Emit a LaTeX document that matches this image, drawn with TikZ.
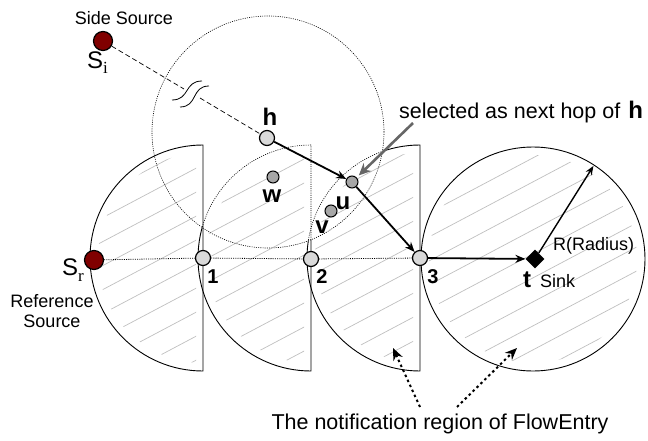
\documentclass[tikz,border=0pt]{standalone}
\usepackage{fontspec}
\setmainfont{Liberation Sans}
\newfontfamily\myseriffont{Liberation Serif}
\usetikzlibrary{arrows.meta,shapes.geometric,calc}
\definecolor{srcred}{RGB}{128,0,0}
\newcommand\myhatch{\foreach \k in {-30,...,20}{\draw[hatchline] (0,\k*24) -- (648,\k*24+343);}}
\begin{document}
\begin{tikzpicture}[x=1pt,y=1pt,
  nd/.style={circle,draw=black,line width=1.2pt,fill=black!15,minimum size=15pt,inner sep=0pt},
  sn/.style={circle,draw=black,line width=1pt,fill=black!35,minimum size=12pt,inner sep=0pt},
  src/.style={circle,draw=black,line width=1.2pt,fill=srcred,minimum size=19pt,inner sep=0pt},
  sinknode/.style={diamond,fill=black,minimum size=19pt,inner sep=0pt},
  lbl/.style={font=\fontsize{24}{24}\selectfont\bfseries,inner sep=0pt,anchor=base},
  num/.style={font=\fontsize{20}{20}\selectfont\bfseries,inner sep=0pt,anchor=base},
  txt/.style={font=\fontsize{18}{18}\selectfont,inner sep=0pt},
  bigtxt/.style={font=\fontsize{21.5}{22}\selectfont,inner sep=0pt},
  arr/.style={line width=1.8pt,-{Stealth[length=10pt,width=8pt]}},
  region/.style={line width=0.9pt},
  finedot/.style={line width=0.6pt,dash pattern=on 1pt off 1.2pt},
  hatchline/.style={black!25,line width=0.7pt}
]
\useasboundingbox (0,0) rectangle (648,440);

% hatching
\begin{scope}
  \clip (83,62) rectangle (196,302);
  \clip (203,182) circle (105);
  \myhatch
\end{scope}
\begin{scope}
  \clip (191,62) rectangle (304,302);
  \clip (311,182) circle (105);
  \myhatch
\end{scope}
\begin{scope}
  \clip (300,62) rectangle (413,302);
  \clip (420,182) circle (105);
  \myhatch
\end{scope}
\begin{scope}
  \clip (533,181) circle (104);
  \myhatch
\end{scope}

% notification regions
\draw[region] (203,295) arc[start angle=90,end angle=270,radius=113] -- cycle;
\begin{scope}[even odd rule]
  \clip (0,0) rectangle (648,440) (268,308) circle (116);
  \draw[region] (311,295) arc[start angle=90,end angle=270,radius=113] -- cycle;
  \draw[region] (420,295) arc[start angle=90,end angle=270,radius=113] -- cycle;
\end{scope}
\begin{scope}
  \clip (268,308) circle (116);
  \draw[finedot] (311,295) arc[start angle=90,end angle=270,radius=113] -- cycle;
  \draw[finedot] (420,295) arc[start angle=90,end angle=270,radius=113] -- cycle;
\end{scope}
\draw[region] (533,181) circle (112);

% range of h
\draw[finedot] (268,308) circle (116);

% nodes
\node[src] (Si) at (103,399) {};
\node[src] (Sr) at (94,180) {};
\node[nd] (h) at (267,302) {};
\node[sn] (w) at (273,263) {};
\node[sn] (u) at (352,258) {};
\node[sn] (v) at (331,229) {};
\node[nd] (n1) at (203,182) {};
\node[nd] (n2) at (311,181) {};
\node[nd] (n3) at (420,182) {};
\node[sinknode] (t) at (535,181) {};

\coordinate (brkA) at (184,351);
\coordinate (brkB) at (200,342);
\coordinate (redge) at ($(533,181)+(57:111)$);
\coordinate (gsrc) at (413,317);
\coordinate (nr1s) at (420,33);
\coordinate (nr1e) at (393,92);
\coordinate (nr2s) at (457,33);
\coordinate (nr2e) at (517,92);

% connectors
\draw[finedot,line width=0.8pt] (Sr) -- (n1) -- (n2) -- (n3);
\draw[line width=0.7pt,dash pattern=on 5pt off 3pt] (Si) -- (brkA);
\draw[line width=0.7pt,dash pattern=on 5pt off 3pt] (brkB) -- (h);
\draw[line width=0.8pt] (172,340) .. controls (190,340) and (184,359) .. (202,359);
\draw[line width=0.8pt] (180,333) .. controls (198,333) and (191,354) .. (209,354);
\draw[arr] (h) -- (u);
\draw[arr] (u) -- (n3);
\draw[arr] (n3) -- (t);
\draw[line width=1.4pt,-{Stealth[length=9pt,width=7pt]}] (t) -- (redge);
\draw[black!60,line width=2.6pt,-{Stealth[length=12pt,width=11pt]},shorten >=3pt] (gsrc) -- (u);
\draw[line width=2pt,dash pattern=on 2.5pt off 3pt,-{Stealth[length=12pt,width=10pt]}] (nr1s) -- (nr1e);
\draw[line width=2pt,dash pattern=on 2.5pt off 3pt,-{Stealth[length=12pt,width=10pt]}] (nr2s) -- (nr2e);

% labels
\node[txt,anchor=base] (lSide) at (124,415) {Side Source};
\node[inner sep=0pt,anchor=base west] (lSi) at (87,371) {\fontsize{24}{24}\selectfont S\raisebox{-5pt}{\myseriffont\fontsize{17}{17}\selectfont i}};
\node[inner sep=0pt,anchor=base west] (lSr) at (62,165) {\fontsize{24}{24}\selectfont S\raisebox{-6pt}{\myseriffont\fontsize{17}{17}\selectfont r}};
\node[txt,anchor=base] (lRef) at (52,133) {Reference};
\node[txt,anchor=base] (lSrc) at (52,113) {Source};
\node[lbl] (lh) at (270,314) {h};
\node[lbl] (lw) at (272,238) {w};
\node[lbl] (lu) at (343,231) {u};
\node[lbl] (lv) at (322,207) {v};
\node[num] (l1) at (213,157) {1};
\node[num] (l2) at (322,157) {2};
\node[num] (l3) at (433,157) {3};
\node[lbl] (lt) at (527,153) {t};
\node[txt,anchor=base west] (lsink) at (540,153) {Sink};
\node[txt,anchor=base west] (lrad) at (553,190) {R(Radius)};
\node[bigtxt,anchor=base west] (lsel) at (399,321) {selected as next hop of\hspace{8pt}{\fontsize{24}{24}\selectfont\bfseries h}};
\node[bigtxt,anchor=base] (lnote) at (440,11) {The notification region of FlowEntry};
\end{tikzpicture}
\end{document}
